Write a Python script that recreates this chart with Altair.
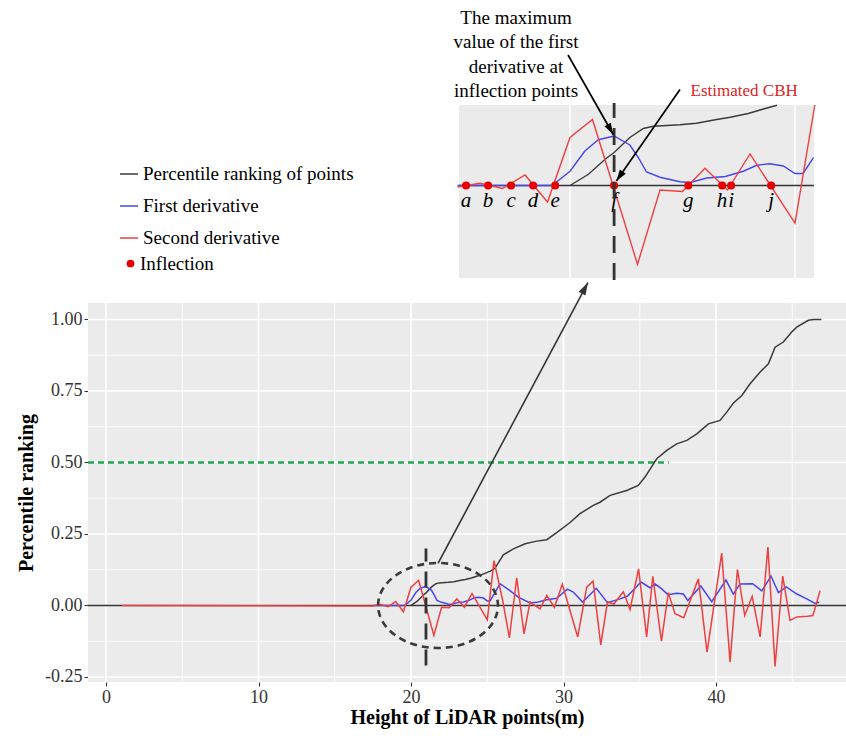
import altair as alt
import pandas as pd

FONT = "Liberation Serif"

# ---------------- data ----------------
SERIES = ["Percentile ranking of points", "First derivative", "Second derivative"]
COLORS = ["#3a3a3a", "#4646EE", "#EE4040"]

PCT_X = [20.0, 20.41, 20.78, 20.98, 21.33, 21.63, 21.85, 22.44, 22.81, 23.26, 23.56, 23.96,
         24.3, 24.6, 25.2, 25.5, 26.05, 26.71, 27.48, 28.24, 28.9, 29.55, 30.43, 31.08, 31.95,
         32.39, 33.05, 34.14, 34.9, 35.34, 36.11, 36.77, 37.42, 38.08, 38.74, 39.5, 40.26, 40.7,
         41.14, 41.69, 42.23, 42.89, 43.43, 43.87, 44.41, 44.96, 45.29, 46.05, 46.4, 46.9]
PCT_Y = [0, 0.015, 0.035, 0.044, 0.064, 0.076, 0.079, 0.081, 0.083, 0.088, 0.091, 0.096,
         0.102, 0.107, 0.12, 0.13, 0.177, 0.198, 0.216, 0.225, 0.23, 0.255, 0.29, 0.321, 0.35,
         0.361, 0.385, 0.402, 0.42, 0.449, 0.513, 0.542, 0.565, 0.577, 0.6, 0.635, 0.647, 0.676,
         0.708, 0.734, 0.775, 0.816, 0.845, 0.903, 0.921, 0.956, 0.973, 0.997, 1.0, 1.0]

FD_X = [17.5, 19.6, 20.0, 20.33, 20.63, 20.98, 21.33, 21.52, 21.7, 22.0, 22.44, 22.67, 23.04,
        23.45, 23.85, 24.15, 24.44, 24.74, 25.0, 25.18, 25.41, 25.84, 26.49, 27.03, 27.8, 28.35,
        28.9, 29.55, 30.25, 30.64, 31.25, 32.15, 32.88, 33.7, 34.2, 35.08, 35.67, 36.0, 36.4,
        36.85, 37.4, 37.86, 38.15, 39.0, 39.72, 40.65, 41.13, 41.57, 42.4, 43.0, 43.6, 44.09,
        44.6, 45.3, 45.95, 46.49, 46.77]
FD_Y = [0, 0, 0.019, 0.046, 0.061, 0.066, 0.054, 0.037, 0.018, 0.011, 0.005, 0.004, 0.010,
        0.012, 0.019, 0.027, 0.029, 0.026, 0.016, 0.016, 0.037, 0.076, 0.052, 0.029, 0.009, 0.012,
        0.020, 0.025, 0.057, 0.047, 0.012, 0.060, 0.010, 0.023, 0.033, 0.082, 0.062, 0.075, 0.060,
        0.038, 0.043, 0.040, 0.017, 0.068, 0.013, 0.089, 0.040, 0.075, 0.076, 0.051, 0.103, 0.045,
        0.065, 0.040, 0.023, 0.007, 0.011]

SD_X = [1.0, 17.5, 18.0, 18.5, 19.0, 19.5, 20.0, 20.5, 21.5, 22.0, 22.5, 23.0, 23.5, 24.0, 25.0,
        25.44, 26.0, 26.45, 26.93, 27.41, 27.8, 28.46, 28.9, 29.4, 29.92, 30.93, 31.52, 31.94,
        32.44, 32.88, 33.3, 33.92, 34.36, 34.92, 35.45, 35.85, 36.42, 36.87, 37.31, 37.88, 38.84,
        39.41, 40.37, 40.92, 41.4, 41.88, 42.37, 42.89, 43.4, 43.87, 44.37, 44.85, 45.3, 46.0,
        46.35, 46.82]
SD_Y = [0, -0.002, 0.003, -0.004, 0.014, -0.022, 0.064, 0.088, -0.105, -0.006, -0.008, 0.023,
        -0.006, 0.042, -0.050, 0.157, 0.02, -0.113, 0.097, -0.099, 0.012, -0.012, 0.035, -0.006,
        0.074, -0.11, 0.064, 0.085, -0.138, 0.012, 0.005, 0.048, -0.014, 0.128, -0.11, 0.102,
        -0.125, 0.045, -0.029, -0.043, 0.093, -0.163, 0.183, -0.198, 0.126, -0.035, 0.032, -0.11,
        0.204, -0.213, 0.103, -0.052, -0.04, -0.038, -0.035, 0.052]

INFL_X = [17.69, 18.18, 18.69, 19.18, 19.67, 20.98, 22.63, 23.38, 23.58, 24.47]
INFL_Y = [0, 0, 0, 0, 0, 0, 0, 0, 0, 0]
INFL_LAB = ["a", "b", "c", "d", "e", "f", "g", "h", "i", "j"]

X_MAJOR = [0, 10, 20, 30, 40]
X_MINOR = [5, 15, 25, 35, 45]
Y_MAJOR = [-0.25, 0, 0.25, 0.5, 0.75, 1.0]
Y_MINOR = [-0.125, 0.125, 0.375, 0.625, 0.875]
INSET_GRID = [20, 25]

CBH = 20.98          # estimated crown base height (dashed line)
HALF_LEVEL = 0.5     # green reference line
HALF_END = 36.9

PANEL_X = [-1.18, 48.52]
PANEL_Y = [-0.2675, 1.0575]
INSET_X = [17.533, 25.422]
INSET_Y = [-0.1233, 0.1073]

# ---------------- tables ----------------
rows = []
for name, xs, ys in [(SERIES[0], PCT_X, PCT_Y), (SERIES[1], FD_X, FD_Y), (SERIES[2], SD_X, SD_Y)]:
    for i, (x, y) in enumerate(zip(xs, ys)):
        rows.append({"x": x, "y": y, "series": name, "i": i})
lines_df = pd.DataFrame(rows)

infl_df = pd.DataFrame({"x": INFL_X, "y": INFL_Y, "t": INFL_LAB, "lab": "Inflection"})

# ---------------- scales ----------------
def MX():
    return alt.Scale(domain=PANEL_X, range=[0, 758], nice=False, zero=False)


def MY():
    return alt.Scale(domain=PANEL_Y, range=[682, 303], nice=False, zero=False)


def IX():
    return alt.Scale(domain=INSET_X, range=[371, 726], nice=False, zero=False)


def IY(clamp=False):
    return alt.Scale(domain=INSET_Y, range=[278, 105], nice=False, zero=False, clamp=clamp)


CS = alt.Scale(domain=SERIES, range=COLORS)

LEG = alt.Legend(title=None, orient="none", legendX=31, legendY=164, direction="vertical",
                 labelFont=FONT, labelFontSize=19, labelColor="black", symbolType="stroke",
                 symbolSize=324, symbolStrokeWidth=1.5, rowPadding=12, padding=0, labelOffset=4,
                 labelLimit=400)

ARROW = "M0,0L-0.75,2.4L0.75,2.4Z"
ELLIPSE = "M-1.41,0A1.41,1,0,1,1,1.41,0A1.41,1,0,1,1,-1.41,0Z"


def X(f, s):
    return alt.X(f, scale=s, axis=None)


def Y(f, s):
    return alt.Y(f, scale=s, axis=None)


layers = []

# ---------------- main panel ----------------
panel = alt.Chart(pd.DataFrame({"x0": [PANEL_X[0]], "x1": [PANEL_X[1]],
                                "y0": [PANEL_Y[0]], "y1": [PANEL_Y[1]]})).mark_rect(
    color="#EBEBEB").encode(
    x=alt.X("x0:Q", scale=MX(), axis=alt.Axis(
        values=X_MAJOR, format="d", title="Height of LiDAR points(m)", domain=False, grid=False,
        tickSize=4, tickColor="#333333", tickWidth=1.1, labelFont=FONT, labelFontSize=18,
        labelColor="#333333", labelPadding=2, titleFont=FONT, titleFontSize=20,
        titleFontWeight="bold", titleColor="black", titlePadding=1)),
    x2="x1:Q",
    y=alt.Y("y0:Q", scale=MY(), axis=alt.Axis(
        values=Y_MAJOR, title="Percentile ranking", domain=False, grid=False,
        labelExpr="replace(format(datum.value, '.2f'), '\u2212', '-')",
        tickSize=4, tickColor="#333333", tickWidth=1.1, labelFont=FONT, labelFontSize=18,
        labelColor="#333333", labelPadding=2, titleFont=FONT, titleFontSize=20,
        titleFontWeight="bold", titleColor="black", titlePadding=8)),
    y2="y1:Q",
)
layers.append(panel)

for vals, w in [(X_MINOR, 0.8), (X_MAJOR, 1.6)]:
    layers.append(alt.Chart(pd.DataFrame({"g": vals, "a": PANEL_Y[0], "b": PANEL_Y[1]})).mark_rule(
        color="white", strokeWidth=w).encode(x=X("g:Q", MX()), y=Y("a:Q", MY()), y2="b:Q"))
for vals, w in [(Y_MINOR, 0.8), (Y_MAJOR, 1.6)]:
    layers.append(alt.Chart(pd.DataFrame({"g": vals, "a": PANEL_X[0], "b": PANEL_X[1]})).mark_rule(
        color="white", strokeWidth=w).encode(y=Y("g:Q", MY()), x=X("a:Q", MX()), x2="b:Q"))

layers.append(alt.Chart(pd.DataFrame({"g": [0], "a": PANEL_X[0], "b": PANEL_X[1]})).mark_rule(
    color="#333333", strokeWidth=1.4).encode(y=Y("g:Q", MY()), x=X("a:Q", MX()), x2="b:Q"))

layers.append(alt.Chart(pd.DataFrame({"g": [HALF_LEVEL], "a": PANEL_X[0], "b": HALF_END})).mark_rule(
    color="#1FA84F", strokeWidth=2.6, strokeDash=[6, 4]).encode(
    y=Y("g:Q", MY()), x=X("a:Q", MX()), x2="b:Q"))

for n in SERIES:
    layers.append(alt.Chart(lines_df).transform_filter(alt.datum.series == n).mark_line(
        strokeWidth=1.5).encode(
        x=X("x:Q", MX()), y=Y("y:Q", MY()),
        color=alt.Color("series:N", scale=CS, legend=LEG), order="i:Q"))

layers.append(alt.Chart(pd.DataFrame({"x": [CBH], "a": [-0.21], "b": [0.199]})).mark_rule(
    color="#333333", strokeWidth=2.8, strokeDash=[16, 10]).encode(
    x=X("x:Q", MX()), y=Y("a:Q", MY()), y2="b:Q"))

layers.append(alt.Chart(pd.DataFrame({"x": [21.77], "y": [0.0]})).mark_point(
    shape=ELLIPSE, size=7225, filled=False, strokeWidth=2.6, strokeDash=[7, 5],
    color="#3a3a3a", opacity=1).encode(x=X("x:Q", MX()), y=Y("y:Q", MY())))

main_arrow_df = pd.DataFrame({"x": [21.77], "y": [0.147], "x2": [31.6], "y2": [1.129], "ang": [28.1]})
layers.append(alt.Chart(main_arrow_df).mark_rule(color="#333333", strokeWidth=1.6).encode(
    x=X("x:Q", MX()), y=Y("y:Q", MY()), x2="x2:Q", y2="y2:Q"))
layers.append(alt.Chart(main_arrow_df).mark_point(
    shape=ARROW, size=110, filled=True, color="#333333", opacity=1, strokeWidth=0).encode(
    x=X("x2:Q", MX()), y=Y("y2:Q", MY()), angle=alt.Angle("ang:Q", scale=None)))

# ---------------- inset ----------------
layers.append(alt.Chart(pd.DataFrame({"x0": [INSET_X[0]], "x1": [INSET_X[1]],
                                      "y0": [INSET_Y[0]], "y1": [INSET_Y[1]]})).mark_rect(
    color="#EBEBEB").encode(x=X("x0:Q", IX()), x2="x1:Q", y=Y("y0:Q", IY()), y2="y1:Q"))
layers.append(alt.Chart(pd.DataFrame({"g": INSET_GRID, "a": INSET_Y[0], "b": INSET_Y[1]})).mark_rule(
    color="white", strokeWidth=1.5).encode(x=X("g:Q", IX()), y=Y("a:Q", IY()), y2="b:Q"))
layers.append(alt.Chart(pd.DataFrame({"g": [0], "a": INSET_X[0], "b": INSET_X[1]})).mark_rule(
    color="#333333", strokeWidth=1.6).encode(y=Y("g:Q", IY()), x=X("a:Q", IX()), x2="b:Q"))

in_range = (alt.datum.x >= 17.5) & (alt.datum.x <= 25.45)
for n in SERIES:
    c = alt.Chart(lines_df).transform_filter(alt.datum.series == n).transform_filter(in_range)
    if n == SERIES[0]:
        c = c.transform_filter(alt.datum.y <= 0.108)
    layers.append(c.mark_line(strokeWidth=1.4).encode(
        x=X("x:Q", IX()), y=Y("y:Q", IY(clamp=True)),
        color=alt.Color("series:N", scale=CS, legend=LEG), order="i:Q"))

layers.append(alt.Chart(infl_df).mark_point(filled=True, size=65, color="#E60000", opacity=1).encode(
    x=X("x:Q", IX()), y=Y("y:Q", IY()),
    shape=alt.Shape("lab:N", scale=alt.Scale(domain=["Inflection"], range=["circle"]),
                    legend=alt.Legend(title=None, orient="none", legendX=33, legendY=254,
                                      labelFont=FONT, labelFontSize=19, labelColor="black",
                                      symbolFillColor="#E60000", symbolStrokeColor="#E60000",
                                      symbolSize=60, symbolStrokeWidth=0, padding=0,
                                      labelOffset=0))))
layers.append(alt.Chart(infl_df).mark_text(font=FONT, fontStyle="italic", fontSize=21, dy=16,
                                           baseline="middle", color="black").encode(
    x=X("x:Q", IX()), y=Y("y:Q", IY()), text="t:N"))

# ---------------- annotations (inset coordinates) ----------------
layers.append(alt.Chart(pd.DataFrame({"x": [CBH], "a": [-0.126], "b": [0.11]})).mark_rule(
    color="#333333", strokeWidth=2.8, strokeDash=[17, 10]).encode(
    x=X("x:Q", IX()), y=Y("a:Q", IY()), y2="b:Q"))

arrows_df = pd.DataFrame({"x": [19.956, 22.444], "y": [0.174, 0.128],
                          "x2": [20.96, 21.03], "y2": [0.068, 0.006], "ang": [150.6, 214.6]})
layers.append(alt.Chart(arrows_df).mark_rule(color="black", strokeWidth=1.7).encode(
    x=X("x:Q", IX()), y=Y("y:Q", IY()), x2="x2:Q", y2="y2:Q"))
layers.append(alt.Chart(arrows_df).mark_point(
    shape=ARROW, size=90, filled=True, color="black", opacity=1, strokeWidth=0).encode(
    x=X("x2:Q", IX()), y=Y("y2:Q", IY()), angle=alt.Angle("ang:Q", scale=None)))

layers.append(alt.Chart(pd.DataFrame({"x": [18.8], "y": [0.2233],
                                      "t": ["The maximum\nvalue of the first\nderivative at\ninflection points"]})
                        ).mark_text(font=FONT, fontSize=19, lineBreak="\n", lineHeight=24.3,
                                    align="center", baseline="middle", color="black").encode(
    x=X("x:Q", IX()), y=Y("y:Q", IY()), text="t:N"))
layers.append(alt.Chart(pd.DataFrame({"x": [23.87], "y": [0.126], "t": ["Estimated CBH"]})).mark_text(
    font=FONT, fontSize=17, align="center", baseline="middle", color="#DD2222").encode(
    x=X("x:Q", IX()), y=Y("y:Q", IY()), text="t:N"))

chart = alt.layer(*layers).resolve_scale(
    x="independent", y="independent").properties(
    width=758, height=682,
    padding={"left": 88, "top": 0, "right": 0, "bottom": 56},
    autosize=alt.AutoSizeParams(type="none"),
    background="white",
).configure_view(stroke=None)

chart.save("out.html", embed_options={"renderer": "svg", "actions": False})
